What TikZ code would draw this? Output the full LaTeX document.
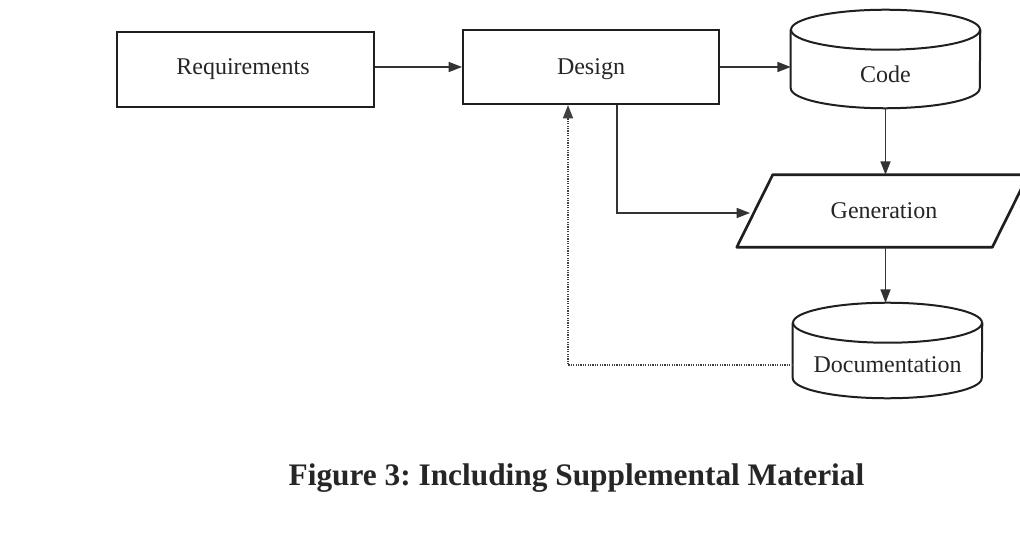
\documentclass[tikz,border=0pt]{standalone}
\usepackage{fontspec}
\setmainfont{Liberation Serif}
\usetikzlibrary{arrows.meta,calc}
\frenchspacing
\begin{document}
\begin{tikzpicture}[x=0.75pt,y=-0.75pt,
  ink/.style={draw=black!88, line width=1.5pt},
  boxnode/.style={ink, rectangle, inner sep=0pt},
  hidden/.style={rectangle, inner sep=0pt, draw=none},
  lbl/.style={anchor=base, inner sep=0pt, font=\fontsize{18}{20}\selectfont, text=black!85},
  arr/.style={draw=black!80, line width=1.1pt, -{Triangle[length=10pt,width=7.5pt]}},
  fb/.style={draw=black!75, line width=1.1pt, dash pattern=on 0.9pt off 0.9pt, -{Triangle[length=10pt,width=7.5pt]}}
]
\useasboundingbox[fill=white] (0,0) rectangle (1020,559);

% boxes
\node[boxnode, minimum width=192.75pt, minimum height=56.25pt] (req) at (245.5,69.5) {};
\node[lbl] (reqlbl) at (243,75) {Requirements};
\node[boxnode, minimum width=192pt, minimum height=55.5pt] (des) at (591,67) {};
\node[lbl] (deslbl) at (591,75) {Design};

% Code cylinder
\node[hidden, minimum width=141.75pt, minimum height=73.5pt] (code) at (885.5,59) {};
\draw[ink] ([yshift=-15pt]code.north west) -- ([yshift=15pt]code.south west)
  arc[start angle=180,end angle=360,x radius=70.875pt,y radius=15pt]
  -- ([yshift=-15pt]code.north east);
\draw[ink] ([yshift=-15pt]code.north) ellipse [x radius=70.875pt, y radius=15pt];
\node[lbl] (codelbl) at (885.5,83) {Code};

% Generation parallelogram
\node[hidden, minimum width=218.25pt, minimum height=54pt] (gen) at (882.5,211) {};
\draw[ink, line width=2pt, line join=round] (gen.south west) -- ([xshift=-27pt]gen.south east)
  -- (gen.north east) -- ([xshift=27pt]gen.north west) -- cycle;
\node[lbl] (genlbl) at (884,219) {Generation};

% Documentation cylinder
\node[hidden, minimum width=141.75pt, minimum height=71.25pt] (doc) at (887.5,350.5) {};
\draw[ink] ([yshift=-15pt]doc.north west) -- ([yshift=15pt]doc.south west)
  arc[start angle=180,end angle=360,x radius=70.875pt,y radius=15pt]
  -- ([yshift=-15pt]doc.north east);
\draw[ink] ([yshift=-15pt]doc.north) ellipse [x radius=70.875pt, y radius=15pt];
\node[lbl] (doclbl) at (887.5,373) {Documentation};

% connectors
\draw[arr] (req.east |- des) -- (des.west);
\draw[arr] (des.east) -- (code.west |- des.east);
\draw[arr] (code.south) -- (code.south |- gen.north);
\draw[arr] (gen.south -| code.south) -- (doc.north -| code.south);
\coordinate (genin) at (750,213);
\draw[arr] ([xshift=19.5pt]des.south) |- (genin);
\draw[fb] (doclbl.west -| doc.west) -| ([xshift=-17.25pt]des.south);

% caption
\node[anchor=base, inner sep=0pt, font=\fontsize{23.5}{26}\selectfont\bfseries, text=black!85] (cap) at (576.5,485) {Figure 3: Including Supplemental Material};
\end{tikzpicture}
\end{document}
